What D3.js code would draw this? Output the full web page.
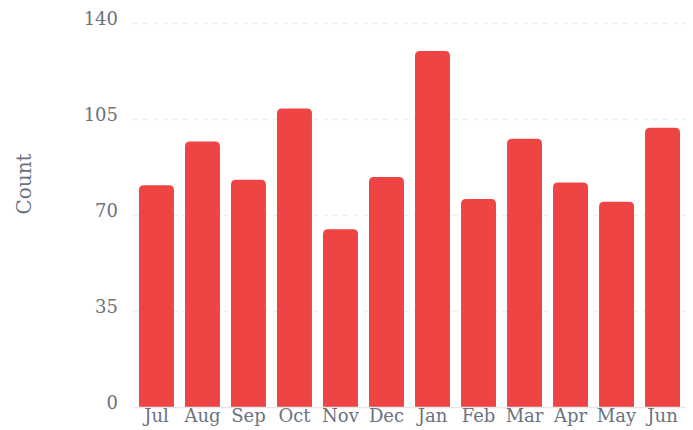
<!DOCTYPE html>
<html>
<head>
<meta charset="utf-8">
<script src="https://cdn.jsdelivr.net/npm/d3@7"></script>
<style>
  html, body { margin: 0; padding: 0; background: #fff; }
  svg text { font-family: "DejaVu Serif", serif; fill: #6b7280; }
</style>
</head>
<body>
<div id="chart"></div>
<script>
var months = ["Jul", "Aug", "Sep", "Oct", "Nov", "Dec", "Jan", "Feb", "Mar", "Apr", "May", "Jun"];
var counts = [81, 97, 83, 109, 65, 84, 130, 76, 98, 82, 75, 102];
var yTicks = [0, 35, 70, 105, 140];

var width = 693,
    height = 430,
    margin = {top: 23.5, right: 7, bottom: 22.5, left: 133};

var svg = d3.select("#chart").append("svg")
    .attr("width", width)
    .attr("height", height);

var x = d3.scaleBand()
    .domain(months)
    .range([margin.left, width - margin.right])
    .paddingInner(0.24)
    .paddingOuter(0.13);

var y = d3.scaleLinear()
    .domain([0, 140])
    .range([height - margin.bottom, margin.top]);

// dashed grid lines
svg.append("g")
    .selectAll("line")
    .data(yTicks.filter(d => d > 0))
    .enter().append("line")
    .attr("x1", margin.left)
    .attr("x2", width - margin.right)
    .attr("y1", d => y(d))
    .attr("y2", d => y(d))
    .attr("stroke", "#eceef1")
    .attr("stroke-width", 1.5)
    .attr("stroke-dasharray", "5,5");

// y tick labels
svg.append("g")
    .selectAll("text")
    .data(yTicks)
    .enter().append("text")
    .attr("x", margin.left - 15)
    .attr("y", d => y(d) + 1)
    .attr("text-anchor", "end")
    .style("font-size", "18px")
    .text(d => d);

// bars with rounded tops
var r = 5;
function barPath(d, i) {
    var x0 = x(months[i]), w = x.bandwidth(),
        y0 = y(d), y1 = y(0);
    return "M" + x0 + "," + y1 +
        "V" + (y0 + r) +
        "Q" + x0 + "," + y0 + " " + (x0 + r) + "," + y0 +
        "H" + (x0 + w - r) +
        "Q" + (x0 + w) + "," + y0 + " " + (x0 + w) + "," + (y0 + r) +
        "V" + y1 + "Z";
}

svg.append("g")
    .selectAll("path")
    .data(counts)
    .enter().append("path")
    .attr("d", barPath)
    .attr("fill", "#ef4444");

// baseline
svg.append("line")
    .attr("x1", margin.left)
    .attr("x2", width - margin.right)
    .attr("y1", y(0))
    .attr("y2", y(0))
    .attr("stroke", "#e5e7eb")
    .attr("stroke-width", 1.5);

// x labels
svg.append("g")
    .selectAll("text")
    .data(months)
    .enter().append("text")
    .attr("x", d => x(d) + x.bandwidth() / 2)
    .attr("y", 422)
    .attr("text-anchor", "middle")
    .style("font-size", "18px")
    .text(d => d);

// y axis title
svg.append("text")
    .attr("transform", "translate(31,184) rotate(-90)")
    .attr("text-anchor", "middle")
    .style("font-size", "20px")
    .text("Count");
</script>
</body>
</html>
